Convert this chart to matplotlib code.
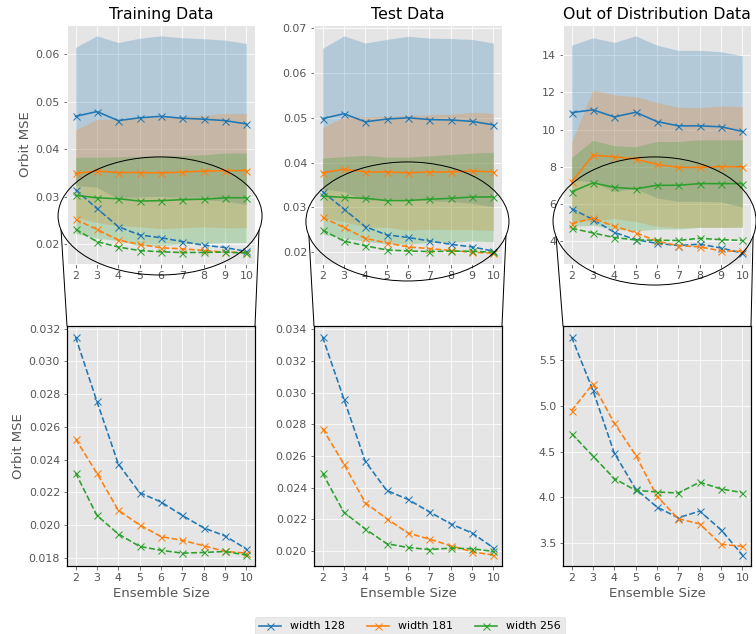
import numpy as np
import matplotlib
matplotlib.use("Agg")
import matplotlib.pyplot as plt
from matplotlib.patches import Ellipse, ConnectionPatch

ensemble_sizes = [2, 3, 4, 5, 6, 7, 8, 9, 10]
widths = ["width 128", "width 181", "width 256"]
colors = ["#1f77b4", "#ff7f0e", "#2ca02c"]
titles = ["Training Data", "Test Data", "Out of Distribution Data"]

# single-model mean and upper edge of the +/- std band (solid lines)
train_mean = [
    [0.0469, 0.0479, 0.0460, 0.0466, 0.0469, 0.0465, 0.0463, 0.0460, 0.0453],
    [0.0349, 0.0354, 0.0351, 0.0351, 0.0350, 0.0352, 0.0354, 0.0355, 0.0355],
    [0.0303, 0.0298, 0.0296, 0.0291, 0.0292, 0.0294, 0.0295, 0.0298, 0.0298],
]
train_upper = [
    [0.0614, 0.0638, 0.0624, 0.0633, 0.0638, 0.0634, 0.0632, 0.0629, 0.0622],
    [0.0441, 0.0462, 0.0463, 0.0465, 0.0467, 0.0469, 0.0471, 0.0475, 0.0475],
    [0.0383, 0.0383, 0.0384, 0.0385, 0.0386, 0.0387, 0.0388, 0.0392, 0.0392],
]
test_mean = [
    [0.0498, 0.0509, 0.0491, 0.0497, 0.0500, 0.0496, 0.0495, 0.0492, 0.0484],
    [0.0377, 0.0385, 0.0379, 0.0379, 0.0377, 0.0379, 0.0379, 0.0381, 0.0379],
    [0.0325, 0.0322, 0.0320, 0.0315, 0.0315, 0.0318, 0.0320, 0.0323, 0.0323],
]
test_upper = [
    [0.0655, 0.0683, 0.0667, 0.0675, 0.0682, 0.0678, 0.0677, 0.0675, 0.0667],
    [0.0478, 0.0502, 0.0502, 0.0503, 0.0505, 0.0507, 0.0508, 0.0512, 0.0510],
    [0.0410, 0.0413, 0.0416, 0.0412, 0.0412, 0.0415, 0.0418, 0.0421, 0.0423],
]
ood_mean = [
    [10.91, 11.06, 10.68, 10.93, 10.43, 10.20, 10.20, 10.15, 9.90],
    [7.19, 8.62, 8.54, 8.42, 8.13, 7.97, 7.97, 8.01, 8.00],
    [6.66, 7.14, 6.90, 6.82, 7.01, 7.01, 7.10, 7.10, 7.10],
]
ood_upper = [
    [14.53, 14.93, 14.68, 15.03, 14.53, 14.25, 14.25, 14.18, 13.96],
    [9.31, 12.13, 11.86, 11.77, 11.45, 11.20, 11.18, 11.27, 11.23],
    [8.51, 9.42, 9.13, 9.08, 9.36, 9.36, 9.45, 9.45, 9.45],
]

# ensemble MSE (dashed lines)
train_ens = [
    [0.03149, 0.02755, 0.02374, 0.02198, 0.02141, 0.02059, 0.01983, 0.01934, 0.01854],
    [0.02526, 0.02317, 0.02091, 0.02001, 0.01930, 0.01907, 0.01874, 0.01839, 0.01829],
    [0.02319, 0.02059, 0.01946, 0.01870, 0.01846, 0.01829, 0.01833, 0.01839, 0.01817],
]
test_ens = [
    [0.03351, 0.02959, 0.02566, 0.02383, 0.02326, 0.02248, 0.02172, 0.02114, 0.02021],
    [0.02773, 0.02549, 0.02305, 0.02205, 0.02114, 0.02076, 0.02034, 0.01996, 0.01975],
    [0.02491, 0.02244, 0.02140, 0.02047, 0.02023, 0.02010, 0.02019, 0.02015, 0.01998],
]
ood_ens = [
    [5.757, 5.173, 4.485, 4.092, 3.894, 3.776, 3.850, 3.644, 3.368],
    [4.949, 5.243, 4.813, 4.463, 4.011, 3.765, 3.710, 3.486, 3.464],
    [4.699, 4.452, 4.206, 4.077, 4.059, 4.048, 4.166, 4.092, 4.052],
]

panels = [
    (train_mean, train_upper, train_ens),
    (test_mean, test_upper, test_ens),
    (ood_mean, ood_upper, ood_ens),
]
# zoom ellipse per panel, in axes fractions: centre x, centre y, width, height
ellipses = [(0.495, 0.201, 1.085, 0.494),
            (0.497, 0.178, 1.080, 0.498),
            (0.487, 0.180, 1.080, 0.536)]

plt.style.use("ggplot")
plt.rcParams["font.size"] = 11
fig = plt.figure(figsize=(10.5, 634 / 72), dpi=72)

lefts = [67, 314, 563]
W, H = 756, 634
handles = []
for i, (mean, upper, ens) in enumerate(panels):
    l = lefts[i] / W
    ax = fig.add_axes([l, 1 - 264 / H, 188 / W, 239 / H])
    axb = fig.add_axes([l, 1 - 566 / H, 188 / W, 240 / H])
    x = np.array(ensemble_sizes)

    for k in range(3):
        m = np.array(mean[k])
        s = np.array(upper[k]) - m
        ax.fill_between(x, m - s, m + s, color=colors[k], alpha=0.25, lw=0)
    for k in range(3):
        h, = ax.plot(x, mean[k], "-x", color=colors[k], lw=1.6, ms=7,
                     label=widths[k])
        ax.plot(x, ens[k], "--x", color=colors[k], lw=1.6, ms=7)
        axb.plot(x, ens[k], "--x", color=colors[k], lw=1.6, ms=7)
        if i == 0:
            handles.append(h)

    ax.set_title(titles[i], color="black", fontsize=15.8)
    ax.set_xticks(ensemble_sizes)
    axb.set_xticks(ensemble_sizes)
    axb.set_xlabel("Ensemble Size")
    if i == 0:
        ax.set_ylabel("Orbit MSE")
        axb.set_ylabel("Orbit MSE")
    for sp in axb.spines.values():
        sp.set_color("black")
        sp.set_linewidth(1.2)

    cx, cy, ew, eh = ellipses[i]
    ax.add_patch(Ellipse((cx, cy), ew, eh, transform=ax.transAxes,
                         fill=False, ec="black", lw=1.0, clip_on=False,
                         zorder=10))
    th = np.deg2rad(14)
    for side, bx in ((-1, 0.0), (1, 1.0)):
        px = cx + side * ew / 2 * np.cos(th)
        py = cy - eh / 2 * np.sin(th)
        con = ConnectionPatch(xyA=(px, py), coordsA=ax.transAxes,
                              xyB=(bx, 1.0), coordsB=axb.transAxes,
                              color="black", lw=1.0)
        fig.add_artist(con)

fig.legend(handles=handles, loc="upper center", ncol=3, borderaxespad=0,
           bbox_to_anchor=(410 / W, 1 - 617 / H), fontsize=11)
fig.savefig("out.png", dpi=72)
